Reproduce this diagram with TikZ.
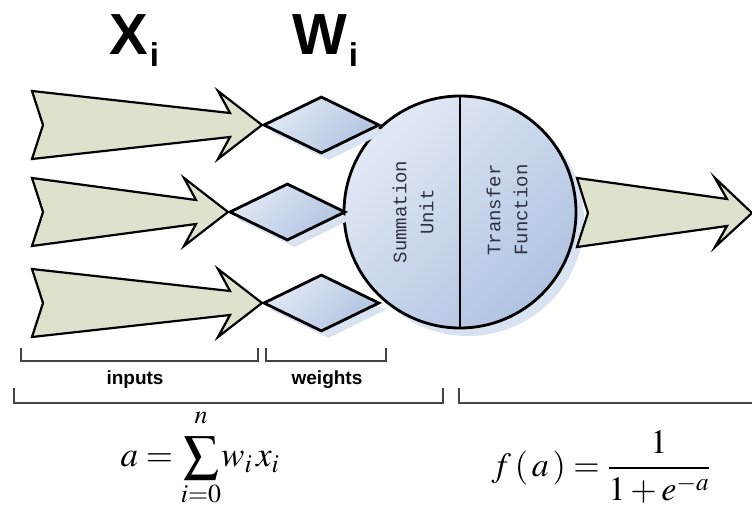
\documentclass[tikz,border=0pt]{standalone}
\usepackage{mathptmx}
\usepackage[no-math]{fontspec}
\newfontfamily\headfont{Liberation Sans}
\newfontfamily\cellfont{Liberation Mono}
\usepackage{xcolor}
\definecolor{shaft}{HTML}{DEE2CD}
\definecolor{bluelite}{HTML}{E2E9F5}
\definecolor{bluedark}{HTML}{B0C3E1}
\definecolor{bluehaze}{HTML}{D9E2F1}
\definecolor{inkgrey}{HTML}{2E3140}
\definecolor{rulegrey}{HTML}{454545}
\usepackage{tikz}
\usetikzlibrary{shapes.geometric,shadows}
\tikzset{
  signal/.style  ={draw=black,fill=shaft,line width=2.2pt,line join=miter},
  weight/.style  ={diamond,draw=black,line width=2.8pt,inner sep=0pt,
                   minimum width=116pt,minimum height=57pt,
                   top color=bluelite,bottom color=bluedark,shading angle=45,
                   general shadow={fill=bluehaze,shadow xshift=7pt,shadow yshift=-7pt}},
  neuron/.style  ={circle,draw=black,line width=2.8pt,inner sep=0pt,
                   minimum size=232pt,
                   top color=bluelite,bottom color=bluedark,shading angle=45,
                   general shadow={fill=bluehaze,shadow xshift=8pt,shadow yshift=-8pt}},
  cell/.style    ={font=\cellfont\fontsize{19}{27}\selectfont,text=inkgrey,
                   rotate=90,align=center,inner sep=0pt},
  head/.style    ={font=\headfont\bfseries\fontsize{58}{58}\selectfont,inner sep=0pt},
  tag/.style     ={font=\headfont\bfseries\fontsize{19}{19}\selectfont,inner sep=1pt},
  span/.style    ={draw=rulegrey,line width=2pt},
  eqn/.style     ={inner sep=0pt},
}
\begin{document}
\begin{tikzpicture}[x=1pt,y=-1pt]
\useasboundingbox (0,0) rectangle (752,510);
% headers
\node[head,anchor=base west] (xhead) at (109,55)
  {X\kern2pt\raisebox{-12pt}{\fontsize{33}{33}\selectfont i}};
\node[head,anchor=base west] (whead) at (292,55)
  {W\kern2pt\raisebox{-12pt}{\fontsize{33}{33}\selectfont i}};
% neuron
\node[neuron] (core) at (460,212) {};
\draw[line width=1.4pt] (core.north) -- (core.south);
% inputs and weights
\foreach \n/\tx/\ty in {1/262/125, 2/228/212, 3/262/303} {
  \draw[signal] (32,\ty-34) -- (\tx-32,\ty-12) -- (\tx-44,\ty-34) -- (\tx,\ty)
    -- (\tx-44,\ty+34) -- (\tx-32,\ty+12) -- (32,\ty+34) -- (43,\ty) -- cycle;
  \node[weight,anchor=west] (w\n) at (\tx,\ty) {};
}
% output
\draw[signal] (577,178) -- (727,199) -- (715,178) -- (752,213) -- (715,247)
  -- (727,226) -- (577,247) -- (588,213) -- cycle;
\node[cell] (sumtxt) at (413,212) {Summation\\Unit};
\node[cell] (fntxt)  at (507,210) {Transfer\\Function};
% spans
\draw[span] (21,348) -- (21,361) -- (258,361) -- (258,348);
\draw[span] (266,348) -- (266,361) -- (386,361) -- (386,348);
\draw[span] (14,388) -- (14,403) -- (443,403) -- (443,388);
\draw[span] (459,388) -- (459,403) -- (752,403);
\node[tag] (intag) at (135,380) {inputs};
\node[tag] (wtag)  at (327,380) {weights};
% formulas
\node[eqn,font=\fontsize{35}{42}\selectfont,anchor=south] (sumeq) at (200,507)
  {$\displaystyle a=\sum_{i=0}^{n\rule[-9pt]{0pt}{0pt}}\! w_i\, x_i$};
\node[eqn,font=\fontsize{34}{40}\selectfont] (fneq) at (601,467)
  {$\displaystyle f\,(\,a\,)=\frac{1\rule[-5pt]{0pt}{0pt}}{\rule{0pt}{28pt}1+e^{-a}}$};
\end{tikzpicture}
\end{document}
